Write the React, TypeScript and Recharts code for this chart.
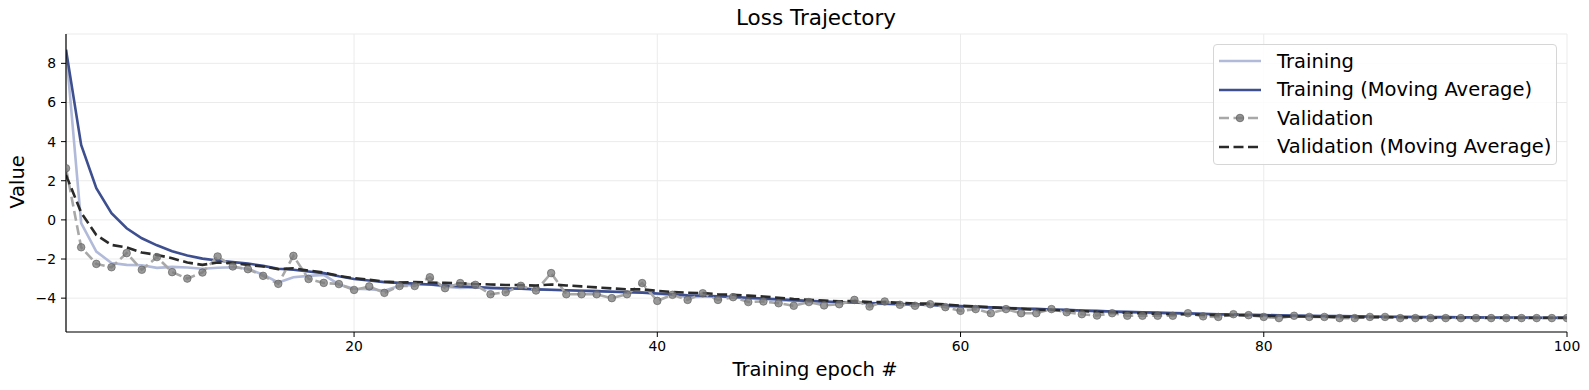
import { CartesianGrid, Line, LineChart, XAxis, YAxis } from "recharts";

const epochs = Array.from({ length: 100 }, (_, i) => i + 1);

const training = [
  8.7, -0.17, -1.62, -2.2, -2.3, -2.32, -2.45, -2.4, -2.43, -2.5,
  -2.45, -2.42, -2.5, -2.8, -3.2, -2.93, -2.86, -2.81, -3.3, -3.52,
  -3.54, -3.62, -3.37, -3.32, -3.3, -3.42, -3.48, -3.45, -3.52, -3.5,
  -3.48, -3.55, -3.58, -3.6, -3.62, -3.64, -3.66, -3.68, -3.7, -3.78,
  -3.84, -3.95, -3.93, -3.9, -3.96, -4.02, -4.06, -4.1, -4.14, -4.18,
  -4.2, -4.24, -4.22, -4.28, -4.3, -4.33, -4.32, -4.36, -4.4, -4.44,
  -4.46, -4.5, -4.52, -4.55, -4.58, -4.6, -4.62, -4.65, -4.68, -4.7,
  -4.73, -4.75, -4.77, -4.79, -4.8, -4.82, -4.84, -4.85, -4.87, -4.88,
  -4.9, -4.91, -4.92, -4.93, -4.94, -4.95, -4.96, -4.96, -4.97, -4.97,
  -4.98, -4.98, -4.99, -4.99, -5.0, -5.0, -5.0, -5.01, -5.01, -5.01,
];

const trainingMA = [
  8.7, 3.83, 1.62, 0.34, -0.43, -0.94, -1.3, -1.6, -1.82, -1.98,
  -2.08, -2.16, -2.23, -2.35, -2.5, -2.55, -2.64, -2.72, -2.88, -3.02,
  -3.1, -3.18, -3.22, -3.25, -3.3, -3.35, -3.4, -3.43, -3.47, -3.5,
  -3.52, -3.55, -3.57, -3.6, -3.62, -3.64, -3.67, -3.7, -3.72, -3.76,
  -3.8, -3.85, -3.88, -3.9, -3.94, -3.98, -4.02, -4.06, -4.1, -4.14,
  -4.17, -4.2, -4.22, -4.25, -4.28, -4.3, -4.32, -4.35, -4.38, -4.41,
  -4.44, -4.47, -4.5, -4.53, -4.55, -4.58, -4.6, -4.63, -4.65, -4.68,
  -4.7, -4.72, -4.74, -4.76, -4.78, -4.8, -4.82, -4.83, -4.85, -4.86,
  -4.88, -4.89, -4.9, -4.91, -4.92, -4.93, -4.94, -4.95, -4.95, -4.96,
  -4.97, -4.97, -4.98, -4.98, -4.99, -4.99, -4.99, -5.0, -5.0, -5.0,
];

const validation = [
  2.64, -1.4, -2.25, -2.42, -1.7, -2.55, -1.9, -2.67, -3.0, -2.69,
  -1.87, -2.38, -2.52, -2.86, -3.27, -1.84, -3.02, -3.22, -3.28, -3.58,
  -3.4, -3.73, -3.38, -3.38, -2.93, -3.49, -3.23, -3.32, -3.8, -3.7,
  -3.37, -3.61, -2.72, -3.8, -3.8, -3.8, -4.0, -3.8, -3.23, -4.14,
  -3.83, -4.09, -3.75, -4.09, -3.95, -4.2, -4.17, -4.26, -4.39, -4.2,
  -4.37, -4.31, -4.09, -4.43, -4.17, -4.34, -4.39, -4.31, -4.46, -4.65,
  -4.56, -4.77, -4.56, -4.77, -4.77, -4.56, -4.72, -4.82, -4.89, -4.77,
  -4.9, -4.9, -4.9, -4.9, -4.77, -4.93, -4.96, -4.82, -4.87, -4.96,
  -5.02, -4.9, -4.96, -4.96, -5.02, -5.02, -4.96, -4.96, -5.02, -5.02,
  -5.02, -5.02, -5.02, -5.02, -5.02, -5.02, -5.02, -5.02, -5.02, -5.02,
];

const validationMA = [
  2.3, 0.37, -0.77, -1.28, -1.41, -1.67, -1.79, -1.96, -2.18, -2.3,
  -2.18, -2.21, -2.3, -2.38, -2.52, -2.47, -2.59, -2.69, -2.86, -2.98,
  -3.06, -3.15, -3.2, -3.18, -3.2, -3.22, -3.24, -3.28, -3.3, -3.33,
  -3.33, -3.36, -3.3, -3.35, -3.4, -3.45, -3.5, -3.55, -3.55, -3.63,
  -3.68, -3.72, -3.74, -3.8, -3.83, -3.87, -3.92, -3.98, -4.04, -4.08,
  -4.12, -4.16, -4.15, -4.2, -4.2, -4.24, -4.27, -4.28, -4.32, -4.38,
  -4.42, -4.47, -4.5, -4.55, -4.6, -4.6, -4.63, -4.66, -4.7, -4.72,
  -4.75, -4.78, -4.8, -4.82, -4.82, -4.85, -4.87, -4.87, -4.88, -4.9,
  -4.93, -4.93, -4.94, -4.95, -4.96, -4.97, -4.97, -4.97, -4.98, -4.99,
  -5.0, -5.0, -5.0, -5.0, -5.0, -5.0, -5.0, -5.0, -5.0, -5.0,
];

const xTicks = [20, 40, 60, 80, 100];
const yTicks = [-4, -2, 0, 2, 4, 6, 8];

const data = epochs.map((epoch, i) => ({
  epoch,
  training: training[i],
  trainingMA: trainingMA[i],
  validation: validation[i],
  validationMA: validationMA[i],
}));

const FONT = "'DejaVu Sans', sans-serif";
const LIGHT = "#b1bad8";
const DARK = "#3d4f8f";
const VAL = "#a8a8a8";
const VALMA = "#2a2a2a";
const DASH = "10 4.5";

const fmt = (v: number) => String(v).replace("-", "\u2212");

const tickStyle = { fill: "#000", fontSize: 13.9, fontFamily: FONT };

function LegendBox() {
  const rows = [
    { label: "Training", color: LIGHT, dash: undefined, dot: false },
    { label: "Training (Moving Average)", color: DARK, dash: undefined, dot: false },
    { label: "Validation", color: VAL, dash: DASH, dot: true },
    { label: "Validation (Moving Average)", color: VALMA, dash: DASH, dot: false },
  ];
  return (
    <div
      style={{
        position: "absolute",
        left: 1213,
        top: 44,
        width: 342,
        height: 119,
        border: "1px solid #d6d6d6",
        borderRadius: 4,
        background: "rgba(255,255,255,0.85)",
      }}
    >
      {rows.map((r, i) => (
        <div
          key={r.label}
          style={{
            position: "absolute",
            left: 5,
            top: 2 + i * 28.5,
            height: 28,
            display: "flex",
            alignItems: "center",
            fontFamily: FONT,
            fontSize: 19.5,
            whiteSpace: "nowrap",
          }}
        >
          <svg width={42} height={12} style={{ marginRight: 16 }}>
            <line
              x1={0}
              y1={6}
              x2={42}
              y2={6}
              stroke={r.color}
              strokeWidth={2.6}
              strokeDasharray={r.dash}
            />
            {r.dot && (
              <circle cx={21} cy={6} r={3.8} fill="rgba(120,120,120,0.8)" stroke="rgba(90,90,90,0.7)" />
            )}
          </svg>
          <span>{r.label}</span>
        </div>
      ))}
    </div>
  );
}

export default function App() {
  return (
    <div style={{ position: "absolute", left: 0, top: 0, width: 1589, height: 390, background: "#fff" }}>
      <LineChart
        width={1589}
        height={390}
        data={data}
        margin={{ top: 34, right: 22, bottom: 0, left: 0 }}
      >
        <CartesianGrid stroke="#ebebeb" strokeWidth={1} />
        <XAxis
          dataKey="epoch"
          type="number"
          domain={[1, 100]}
          ticks={xTicks}
          allowDataOverflow
          height={58}
          tickSize={5}
          tickMargin={4}
          tick={tickStyle}
          axisLine={{ stroke: "#000", strokeWidth: 1.2 }}
          tickLine={{ stroke: "#000" }}
        />
        <YAxis
          type="number"
          domain={[-5.73, 9.5]}
          ticks={yTicks}
          allowDataOverflow
          width={66}
          tickSize={5}
          tickMargin={5}
          tick={tickStyle}
          tickFormatter={fmt}
          axisLine={{ stroke: "#000", strokeWidth: 1.2 }}
          tickLine={{ stroke: "#000" }}
        />
        <Line
          dataKey="training"
          stroke={LIGHT}
          strokeWidth={2.6}
          dot={false}
          isAnimationActive={false}
        />
        <Line
          dataKey="trainingMA"
          stroke={DARK}
          strokeWidth={2.6}
          dot={false}
          isAnimationActive={false}
        />
        <Line
          dataKey="validation"
          stroke={VAL}
          strokeWidth={2.6}
          strokeDasharray={DASH}
          dot={{ r: 3.8, fill: "rgba(120,120,120,0.75)", stroke: "rgba(90,90,90,0.6)", strokeWidth: 1, strokeDasharray: "" }}
          isAnimationActive={false}
        />
        <Line
          dataKey="validationMA"
          stroke={VALMA}
          strokeWidth={2.6}
          strokeDasharray={DASH}
          dot={false}
          isAnimationActive={false}
        />
      </LineChart>
      <div
        style={{
          position: "absolute",
          left: 0,
          width: 1632,
          top: 5,
          textAlign: "center",
          fontFamily: FONT,
          fontSize: 21.5,
        }}
      >
        Loss Trajectory
      </div>
      <div
        style={{
          position: "absolute",
          left: 0,
          width: 1630,
          top: 358,
          textAlign: "center",
          fontFamily: FONT,
          fontSize: 19.5,
        }}
      >
        Training epoch #
      </div>
      <div
        style={{
          position: "absolute",
          left: 17,
          top: 182,
          transform: "translate(-50%, -50%) rotate(-90deg)",
          fontFamily: FONT,
          fontSize: 19.5,
        }}
      >
        Value
      </div>
      <LegendBox />
    </div>
  );
}
